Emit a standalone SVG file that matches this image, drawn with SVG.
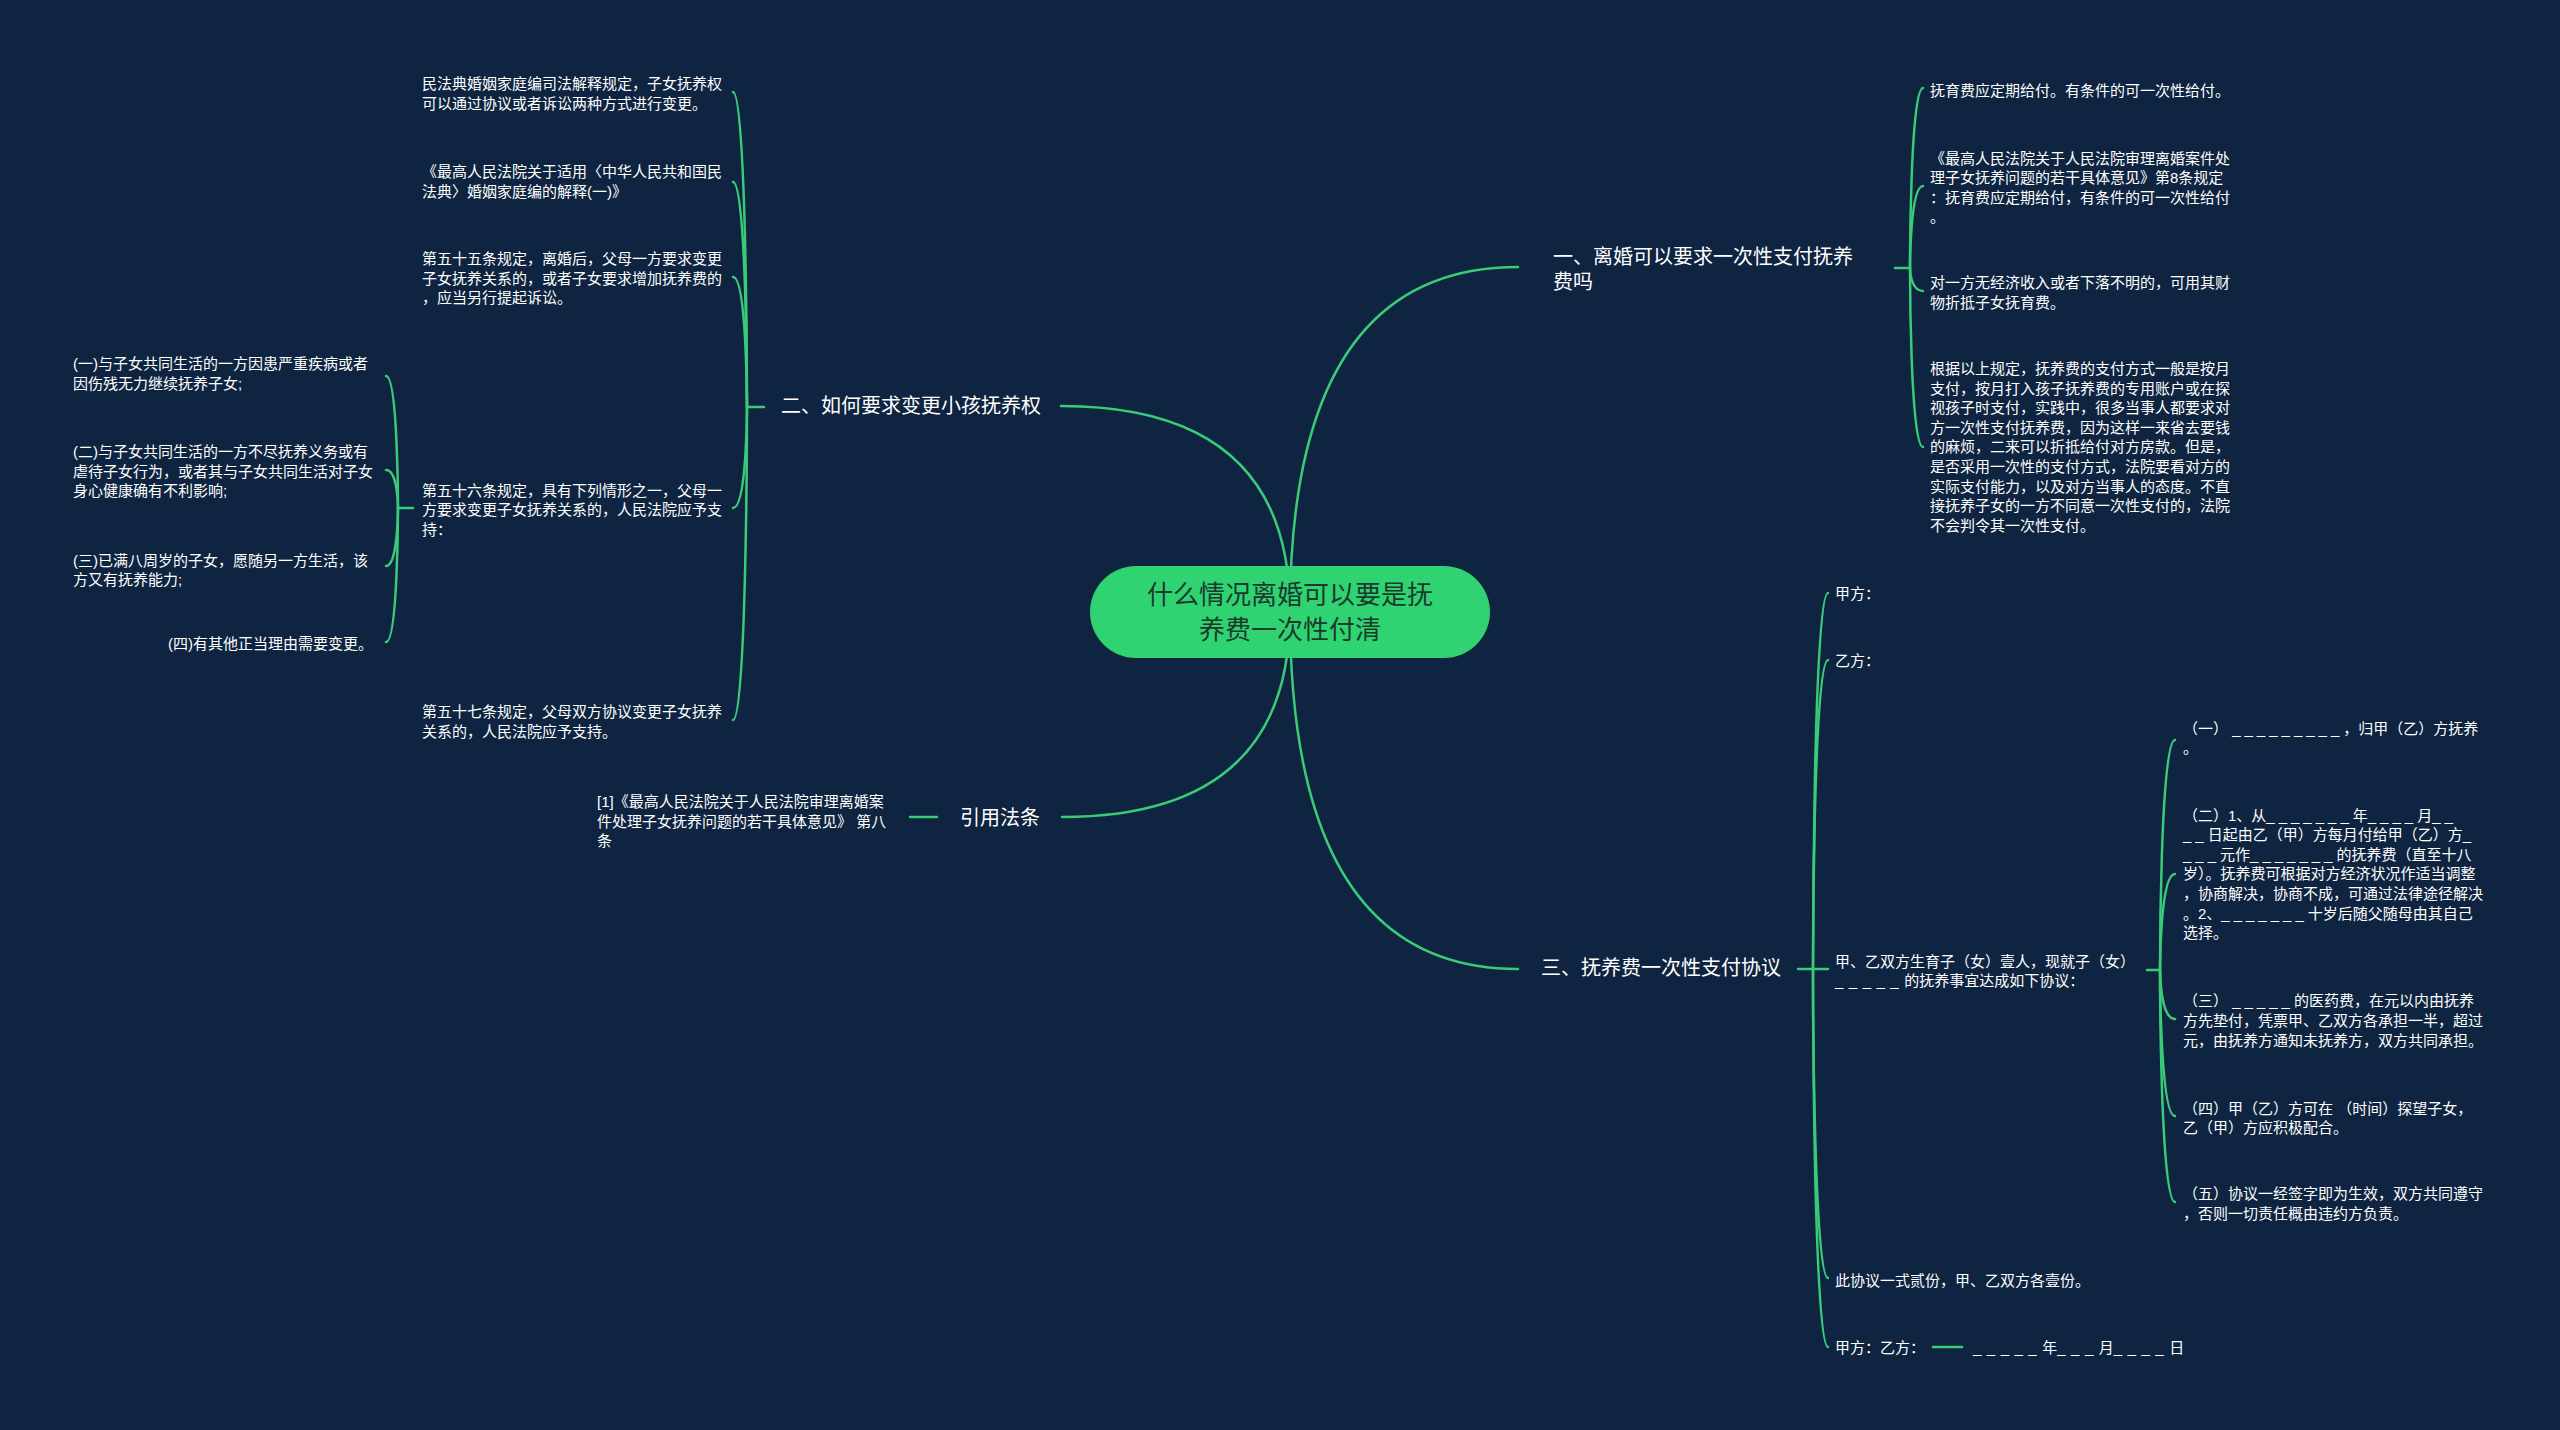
<svg xmlns="http://www.w3.org/2000/svg" width="2560" height="1430" viewBox="0 0 2560 1430">
<style>
.c{fill:none;stroke:#3acb78;stroke-width:2.5;stroke-linecap:round}
.t{font-family:"Liberation Sans","Noto Sans CJK SC",sans-serif;font-size:15px;fill:#ffffff}
.b{font-family:"Liberation Sans","Noto Sans CJK SC",sans-serif;font-size:20px;fill:#ffffff}
.r{font-family:"Liberation Sans","Noto Sans CJK SC",sans-serif;font-size:26px;fill:#1b3a2c;text-anchor:middle}
.u4{letter-spacing:4px}
.u5{letter-spacing:5.5px}
</style>
<rect x="0" y="0" width="2560" height="1430" fill="#0e2440"/>
<g id="connectors">
<path class="c" d="M1290,612 Q1290,267 1518,267"/>
<path class="c" d="M1290,612 Q1290,969 1518,969"/>
<path class="c" d="M1290,612 Q1290,406 1061,406"/>
<path class="c" d="M1290,612 Q1290,817 1062,817"/>
<path class="c" d="M1895,268 L1910,268"/>
<path class="c" d="M1910,268 C1910,268 1910,88 1923,88"/>
<path class="c" d="M1910,268 C1910,268 1910,186 1923,186"/>
<path class="c" d="M1910,268 C1910,268 1910,291 1923,291"/>
<path class="c" d="M1910,268 C1910,268 1910,447 1923,447"/>
<path class="c" d="M1798,969 L1828,969"/>
<path class="c" d="M1813,969 C1813,969 1813,593 1828,593"/>
<path class="c" d="M1813,969 C1813,969 1813,660 1828,660"/>
<path class="c" d="M1813,969 C1813,969 1813,1278 1828,1278"/>
<path class="c" d="M1813,969 C1813,969 1813,1347 1828,1347"/>
<path class="c" d="M2147,970 L2160,970"/>
<path class="c" d="M2160,970 C2160,970 2160,740 2175,740"/>
<path class="c" d="M2160,970 C2160,970 2160,874 2175,874"/>
<path class="c" d="M2160,970 C2160,970 2160,1019 2175,1019"/>
<path class="c" d="M2160,970 C2160,970 2160,1116 2175,1116"/>
<path class="c" d="M2160,970 C2160,970 2160,1202 2175,1202"/>
<path class="c" d="M1933,1347 L1962,1347"/>
<path class="c" d="M764,407 L747,407"/>
<path class="c" d="M747,407 C747,407 747,92 733,92"/>
<path class="c" d="M747,407 C747,407 747,182 733,182"/>
<path class="c" d="M747,407 C747,407 747,277 733,277"/>
<path class="c" d="M747,407 C747,407 747,508 733,508"/>
<path class="c" d="M747,407 C747,407 747,720 733,720"/>
<path class="c" d="M413,508 L398,508"/>
<path class="c" d="M398,508 C398,508 398,376 386,376"/>
<path class="c" d="M398,508 C398,508 398,470 386,470"/>
<path class="c" d="M398,508 C398,508 398,566 386,566"/>
<path class="c" d="M398,508 C398,508 398,642 386,642"/>
<path class="c" d="M937,817 L910,817"/>
</g>
<g id="root">
<rect x="1090" y="566" width="400" height="92" rx="46" fill="#2fd372"/>
<text class="r" x="1290" y="604">什么情况离婚可以要是抚</text>
<text class="r" x="1290" y="639">养费一次性付清</text>
</g>
<g id="b1">
<text class="b" x="1553" y="264">一、离婚可以要求一次性支付抚养</text>
<text class="b" x="1553" y="289">费吗</text>
</g>
<g id="b1c1"><text class="t" x="1930" y="95.5">抚育费应定期给付。有条件的可一次性给付。</text></g>
<g id="b1c2">
<text class="t" x="1930" y="163.5">《最高人民法院关于人民法院审理离婚案件处</text>
<text class="t" x="1930" y="183">理子女抚养问题的若干具体意见》第8条规定</text>
<text class="t" x="1930" y="202.5">：抚育费应定期给付，有条件的可一次性给付</text>
<text class="t" x="1930" y="222">。</text>
</g>
<g id="b1c3">
<text class="t" x="1930" y="287.5">对一方无经济收入或者下落不明的，可用其财</text>
<text class="t" x="1930" y="307.5">物折抵子女抚育费。</text>
</g>
<g id="b1c4">
<text class="t" x="1930" y="374">根据以上规定，抚养费的支付方式一般是按月</text>
<text class="t" x="1930" y="393.6">支付，按月打入孩子抚养费的专用账户或在探</text>
<text class="t" x="1930" y="413.2">视孩子时支付，实践中，很多当事人都要求对</text>
<text class="t" x="1930" y="432.8">方一次性支付抚养费，因为这样一来省去要钱</text>
<text class="t" x="1930" y="452.4">的麻烦，二来可以折抵给付对方房款。但是，</text>
<text class="t" x="1930" y="472">是否采用一次性的支付方式，法院要看对方的</text>
<text class="t" x="1930" y="491.6">实际支付能力，以及对方当事人的态度。不直</text>
<text class="t" x="1930" y="511.2">接抚养子女的一方不同意一次性支付的，法院</text>
<text class="t" x="1930" y="530.8">不会判令其一次性支付。</text>
</g>
<g id="b3"><text class="b" x="1541" y="975">三、抚养费一次性支付协议</text></g>
<g id="b3c1"><text class="t" x="1835" y="598.5">甲方：</text></g>
<g id="b3c2"><text class="t" x="1835" y="665.5">乙方：</text></g>
<g id="b3c3">
<text class="t" x="1835" y="966.5">甲、乙双方生育子（女）壹人，现就子（女）</text>
<text class="t" x="1835" y="986"><tspan style="letter-spacing:5.5px">_____</tspan>的抚养事宜达成如下协议：</text>
</g>
<g id="b3c3c1">
<text class="t" x="2183" y="733.5">（一） <tspan class="u4">_________</tspan>，归甲（乙）方抚养</text>
<text class="t" x="2183" y="753">。</text>
</g>
<g id="b3c3c2">
<text class="t" x="2183" y="820.5">（二）1、从<tspan class="u4">_______</tspan>年<tspan class="u4">____</tspan>月<tspan class="u4">__</tspan></text>
<text class="t" x="2183" y="840.1"><tspan class="u4">__</tspan>日起由乙（甲）方每月付给甲（乙）方<tspan class="u4">_</tspan></text>
<text class="t" x="2183" y="859.7"><tspan class="u4">___</tspan>元作<tspan class="u4">_______</tspan>的抚养费（直至十八</text>
<text class="t" x="2183" y="879.3">岁）。抚养费可根据对方经济状况作适当调整</text>
<text class="t" x="2183" y="898.9">，协商解决，协商不成，可通过法律途径解决</text>
<text class="t" x="2183" y="918.5">。2、<tspan class="u4">_______</tspan>十岁后随父随母由其自己</text>
<text class="t" x="2183" y="938.1">选择。</text>
</g>
<g id="b3c3c3">
<text class="t" x="2183" y="1005.5">（三） <tspan class="u4">_____</tspan>的医药费，在元以内由抚养</text>
<text class="t" x="2183" y="1025.6">方先垫付，凭票甲、乙双方各承担一半，超过</text>
<text class="t" x="2183" y="1045.5">元，由抚养方通知未抚养方，双方共同承担。</text>
</g>
<g id="b3c3c4">
<text class="t" x="2183" y="1113.5">（四）甲（乙）方可在 （时间）探望子女，</text>
<text class="t" x="2183" y="1132.5">乙（甲）方应积极配合。</text>
</g>
<g id="b3c3c5">
<text class="t" x="2183" y="1198.5">（五）协议一经签字即为生效，双方共同遵守</text>
<text class="t" x="2183" y="1218.5">，否则一切责任概由违约方负责。</text>
</g>
<g id="b3c4"><text class="t" x="1835" y="1285.5">此协议一式贰份，甲、乙双方各壹份。</text></g>
<g id="b3c5"><text class="t" x="1835" y="1352.5">甲方：乙方：</text></g>
<g id="b3c5c1"><text class="t" x="1973" y="1352.5"><tspan class="u5">_____</tspan>年<tspan class="u5">___</tspan>月<tspan class="u5">____</tspan>日</text></g>
<g id="b2"><text class="b" x="781" y="413">二、如何要求变更小孩抚养权</text></g>
<g id="b2c1">
<text class="t" x="422" y="89">民法典婚姻家庭编司法解释规定，子女抚养权</text>
<text class="t" x="422" y="108.6">可以通过协议或者诉讼两种方式进行变更。</text>
</g>
<g id="b2c2">
<text class="t" x="422" y="177">《最高人民法院关于适用〈中华人民共和国民</text>
<text class="t" x="422" y="196.6">法典〉婚姻家庭编的解释(一)》</text>
</g>
<g id="b2c3">
<text class="t" x="422" y="264">第五十五条规定，离婚后，父母一方要求变更</text>
<text class="t" x="422" y="283.6">子女抚养关系的，或者子女要求增加抚养费的</text>
<text class="t" x="422" y="303.2">，应当另行提起诉讼。</text>
</g>
<g id="b2c4">
<text class="t" x="422" y="495.5">第五十六条规定，具有下列情形之一，父母一</text>
<text class="t" x="422" y="515.1">方要求变更子女抚养关系的，人民法院应予支</text>
<text class="t" x="422" y="534.7">持：</text>
</g>
<g id="b2c4c1">
<text class="t" x="73" y="369">(一)与子女共同生活的一方因患严重疾病或者</text>
<text class="t" x="73" y="388.6">因伤残无力继续抚养子女;</text>
</g>
<g id="b2c4c2">
<text class="t" x="73" y="457">(二)与子女共同生活的一方不尽抚养义务或有</text>
<text class="t" x="73" y="476.6">虐待子女行为，或者其与子女共同生活对子女</text>
<text class="t" x="73" y="496.2">身心健康确有不利影响;</text>
</g>
<g id="b2c4c3">
<text class="t" x="73" y="565.5">(三)已满八周岁的子女，愿随另一方生活，该</text>
<text class="t" x="73" y="584.5">方又有抚养能力;</text>
</g>
<g id="b2c4c4"><text class="t" x="373" y="649" text-anchor="end">(四)有其他正当理由需要变更。</text></g>
<g id="b2c5">
<text class="t" x="422" y="717">第五十七条规定，父母双方协议变更子女抚养</text>
<text class="t" x="422" y="736.6">关系的，人民法院应予支持。</text>
</g>
<g id="b4"><text class="b" x="960" y="824.5">引用法条</text></g>
<g id="b4c1">
<text class="t" x="597" y="807">[1]《最高人民法院关于人民法院审理离婚案</text>
<text class="t" x="597" y="826.6">件处理子女抚养问题的若干具体意见》 第八</text>
<text class="t" x="597" y="846">条</text>
</g>
</svg>
